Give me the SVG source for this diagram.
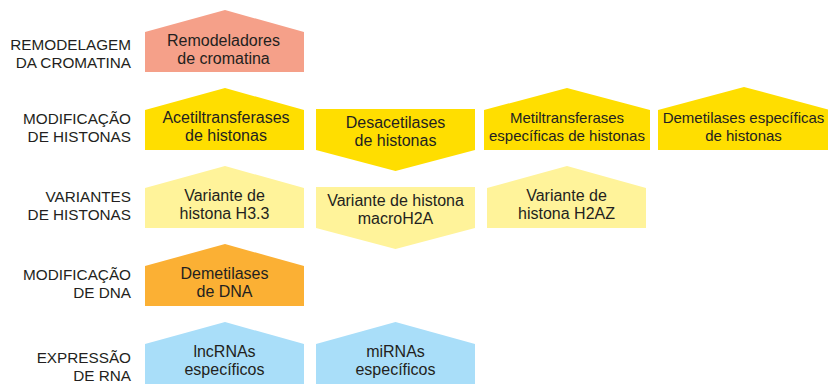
<svg xmlns="http://www.w3.org/2000/svg" width="828" height="384" viewBox="0 0 828 384">
<style>
text{font-family:"Liberation Sans","Arial",sans-serif;font-size:15.3px;fill:#231f20}
.lbl{text-anchor:end}
.nt{text-anchor:middle;font-size:16px}
.nt.sm{font-size:15px}
.salmon{fill:#f5a089}
.yellow{fill:#ffde00}
.lyellow{fill:#fff39a}
.orange{fill:#fbb034}
.blue{fill:#a9def9}
</style>
<rect width="828" height="384" fill="#ffffff"/>
<g id="labels">
<text class="lbl" x="131" y="50">REMODELAGEM</text>
<text class="lbl" x="131" y="68">DA CROMATINA</text>
<text class="lbl" x="131" y="124">MODIFICAÇÃO</text>
<text class="lbl" x="131" y="142">DE HISTONAS</text>
<text class="lbl" x="131" y="202">VARIANTES</text>
<text class="lbl" x="131" y="220">DE HISTONAS</text>
<text class="lbl" x="131" y="280">MODIFICAÇÃO</text>
<text class="lbl" x="131" y="298">DE DNA</text>
<text class="lbl" x="131" y="363">EXPRESSÃO</text>
<text class="lbl" x="131" y="381">DE RNA</text>
</g>
<g id="connectors"/>
<g id="remodeladores">
<polygon class="salmon" points="145,32 225,10 304,32 304,72 145,72"/>
<text class="nt" x="223.5" y="46">Remodeladores</text>
<text class="nt" x="223.5" y="64">de cromatina</text>
</g>
<g id="acetiltransferases">
<polygon class="yellow" points="145,110 225,88 304,110 304,150 145,150"/>
<text class="nt" x="226" y="123">Acetiltransferases</text>
<text class="nt" x="226" y="141">de histonas</text>
</g>
<g id="desacetilases">
<polygon class="yellow" points="316,109 475,109 475,150 395.5,171 316,150"/>
<text class="nt" x="395.5" y="128">Desacetilases</text>
<text class="nt" x="395.5" y="146">de histonas</text>
</g>
<g id="metiltransferases">
<polygon class="yellow" points="484,110 567,88 650,110 650,150 484,150"/>
<text class="nt sm" x="567" y="123">Metiltransferases</text>
<text class="nt sm" x="567" y="141">específicas de histonas</text>
</g>
<g id="demetilases-histonas">
<polygon class="yellow" points="658,110 744,87 830,110 830,150 658,150"/>
<text class="nt sm" x="743.5" y="123">Demetilases específicas</text>
<text class="nt sm" x="743.5" y="141">de histonas</text>
</g>
<g id="h33">
<polygon class="lyellow" points="145,188 225,166 304,188 304,228 145,228"/>
<text class="nt" x="224.5" y="201">Variante de</text>
<text class="nt" x="224.5" y="219">histona H3.3</text>
</g>
<g id="macroh2a">
<polygon class="lyellow" points="316,187 475,187 475,228 395.5,249 316,228"/>
<text class="nt" x="395.5" y="206">Variante de histona</text>
<text class="nt" x="395.5" y="224">macroH2A</text>
</g>
<g id="h2az">
<polygon class="lyellow" points="487,188 567,166 646,188 646,228 487,228"/>
<text class="nt" x="566.5" y="201">Variante de</text>
<text class="nt" x="566.5" y="219">histona H2AZ</text>
</g>
<g id="demetilases-dna">
<polygon class="orange" points="145,266 225,244 304,266 304,306 145,306"/>
<text class="nt" x="224.5" y="279">Demetilases</text>
<text class="nt" x="224.5" y="297">de DNA</text>
</g>
<g id="lncrnas">
<polygon class="blue" points="145,344 225,322 304,344 304,390 145,390"/>
<text class="nt" x="224.5" y="357">lncRNAs</text>
<text class="nt" x="224.5" y="375">específicos</text>
</g>
<g id="mirnas">
<polygon class="blue" points="316,344 395.5,322 475,344 475,390 316,390"/>
<text class="nt" x="395.5" y="357">miRNAs</text>
<text class="nt" x="395.5" y="375">específicos</text>
</g>
</svg>
